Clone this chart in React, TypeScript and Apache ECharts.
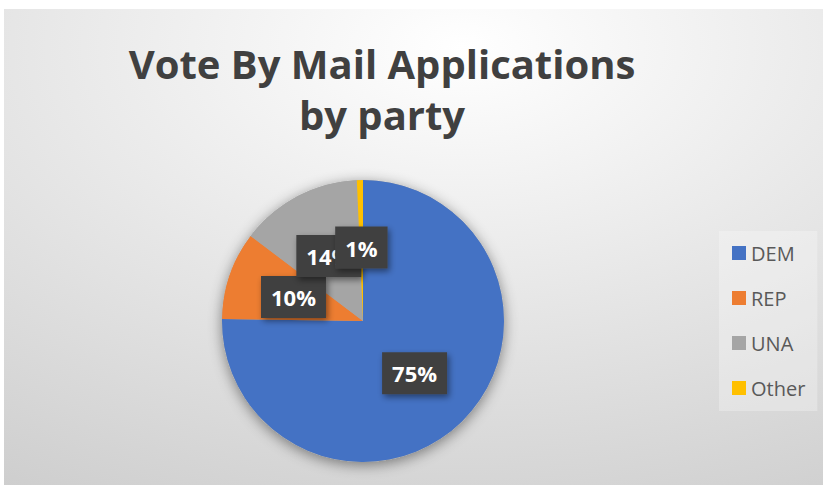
import React, { useEffect, useRef } from "react";
import * as echarts from "echarts";

const categories = ["DEM", "REP", "UNA", "Other"];
const values = [75.3, 10.1, 14.0, 0.7];
const colors = ["#4472C4", "#ED7D31", "#A5A5A5", "#FFC000"];
const titleText = "Vote By Mail Applications\nby party";

export default function App() {
  const ref = useRef<HTMLDivElement>(null);
  useEffect(() => {
    if (!ref.current) return;
    const chart = echarts.init(ref.current, undefined, { renderer: "svg" });
    const font = "'Open Sans', 'Noto Sans', sans-serif";
    chart.setOption({
      animation: false,
      backgroundColor: {
        type: "radial",
        x: 0.56,
        y: 0.08,
        r: 1.3,
        colorStops: [
          { offset: 0, color: "#ffffff" },
          { offset: 1, color: "#c4c4c4" },
        ],
      },
      title: {
        text: titleText,
        left: 373,
        top: 24,
        textAlign: "center",
        textStyle: {
          fontFamily: font,
          fontSize: 40,
          fontWeight: "bold",
          color: "#404040",
          lineHeight: 51,
        },
      },
      legend: {
        data: categories,
        orient: "vertical",
        left: 715,
        top: 222,
        icon: "rect",
        itemWidth: 14,
        itemHeight: 14,
        itemGap: 25,
        padding: [12, 12, 13, 13],
        backgroundColor: "rgba(255,255,255,0.28)",
        textStyle: {
          fontFamily: font,
          fontSize: 20,
          lineHeight: 20,
          color: "#595959",
        },
        selectedMode: false,
      },
      series: [
        {
          type: "pie",
          silent: true,
          z: 1,
          center: [359, 312],
          radius: 141,
          label: { show: false },
          labelLine: { show: false },
          itemStyle: {
            color: "#a8a8a8",
            shadowBlur: 14,
            shadowColor: "rgba(0,0,0,0.45)",
            shadowOffsetY: 3,
          },
          data: [{ value: 1, name: "_shadow" }],
        },
        {
          type: "pie",
          z: 2,
          center: [359, 312],
          radius: 141,
          startAngle: 90,
          clockwise: true,
          avoidLabelOverlap: false,
          labelLayout: { hideOverlap: false },
          emphasis: { disabled: true },
          labelLine: { show: false },
          itemStyle: { borderWidth: 0 },
          label: {
            show: true,
            position: "inside",
            formatter: (p: any) => Math.round(p.percent) + "%",
            color: "#ffffff",
            fontFamily: font,
            fontSize: 22,
            fontWeight: "bold",
            lineHeight: 24,
            backgroundColor: "#404040",
            padding: [9, 10, 9, 10],
            shadowBlur: 6,
            shadowColor: "rgba(0,0,0,0.45)",
            shadowOffsetX: 2,
            shadowOffsetY: 3,
          },
          data: categories.map((c, i) => ({
            name: c,
            value: values[i],
            itemStyle: { color: colors[i] },
          })),
        },
      ],
    });
    return () => chart.dispose();
  }, []);
  return (
    <div
      style={{
        position: "fixed",
        left: 0,
        top: 0,
        width: 823,
        height: 485,
        background: "#ffffff",
      }}
    >
      <div
        ref={ref}
        style={{ position: "absolute", left: 4, top: 9, width: 819, height: 476 }}
      />
    </div>
  );
}
